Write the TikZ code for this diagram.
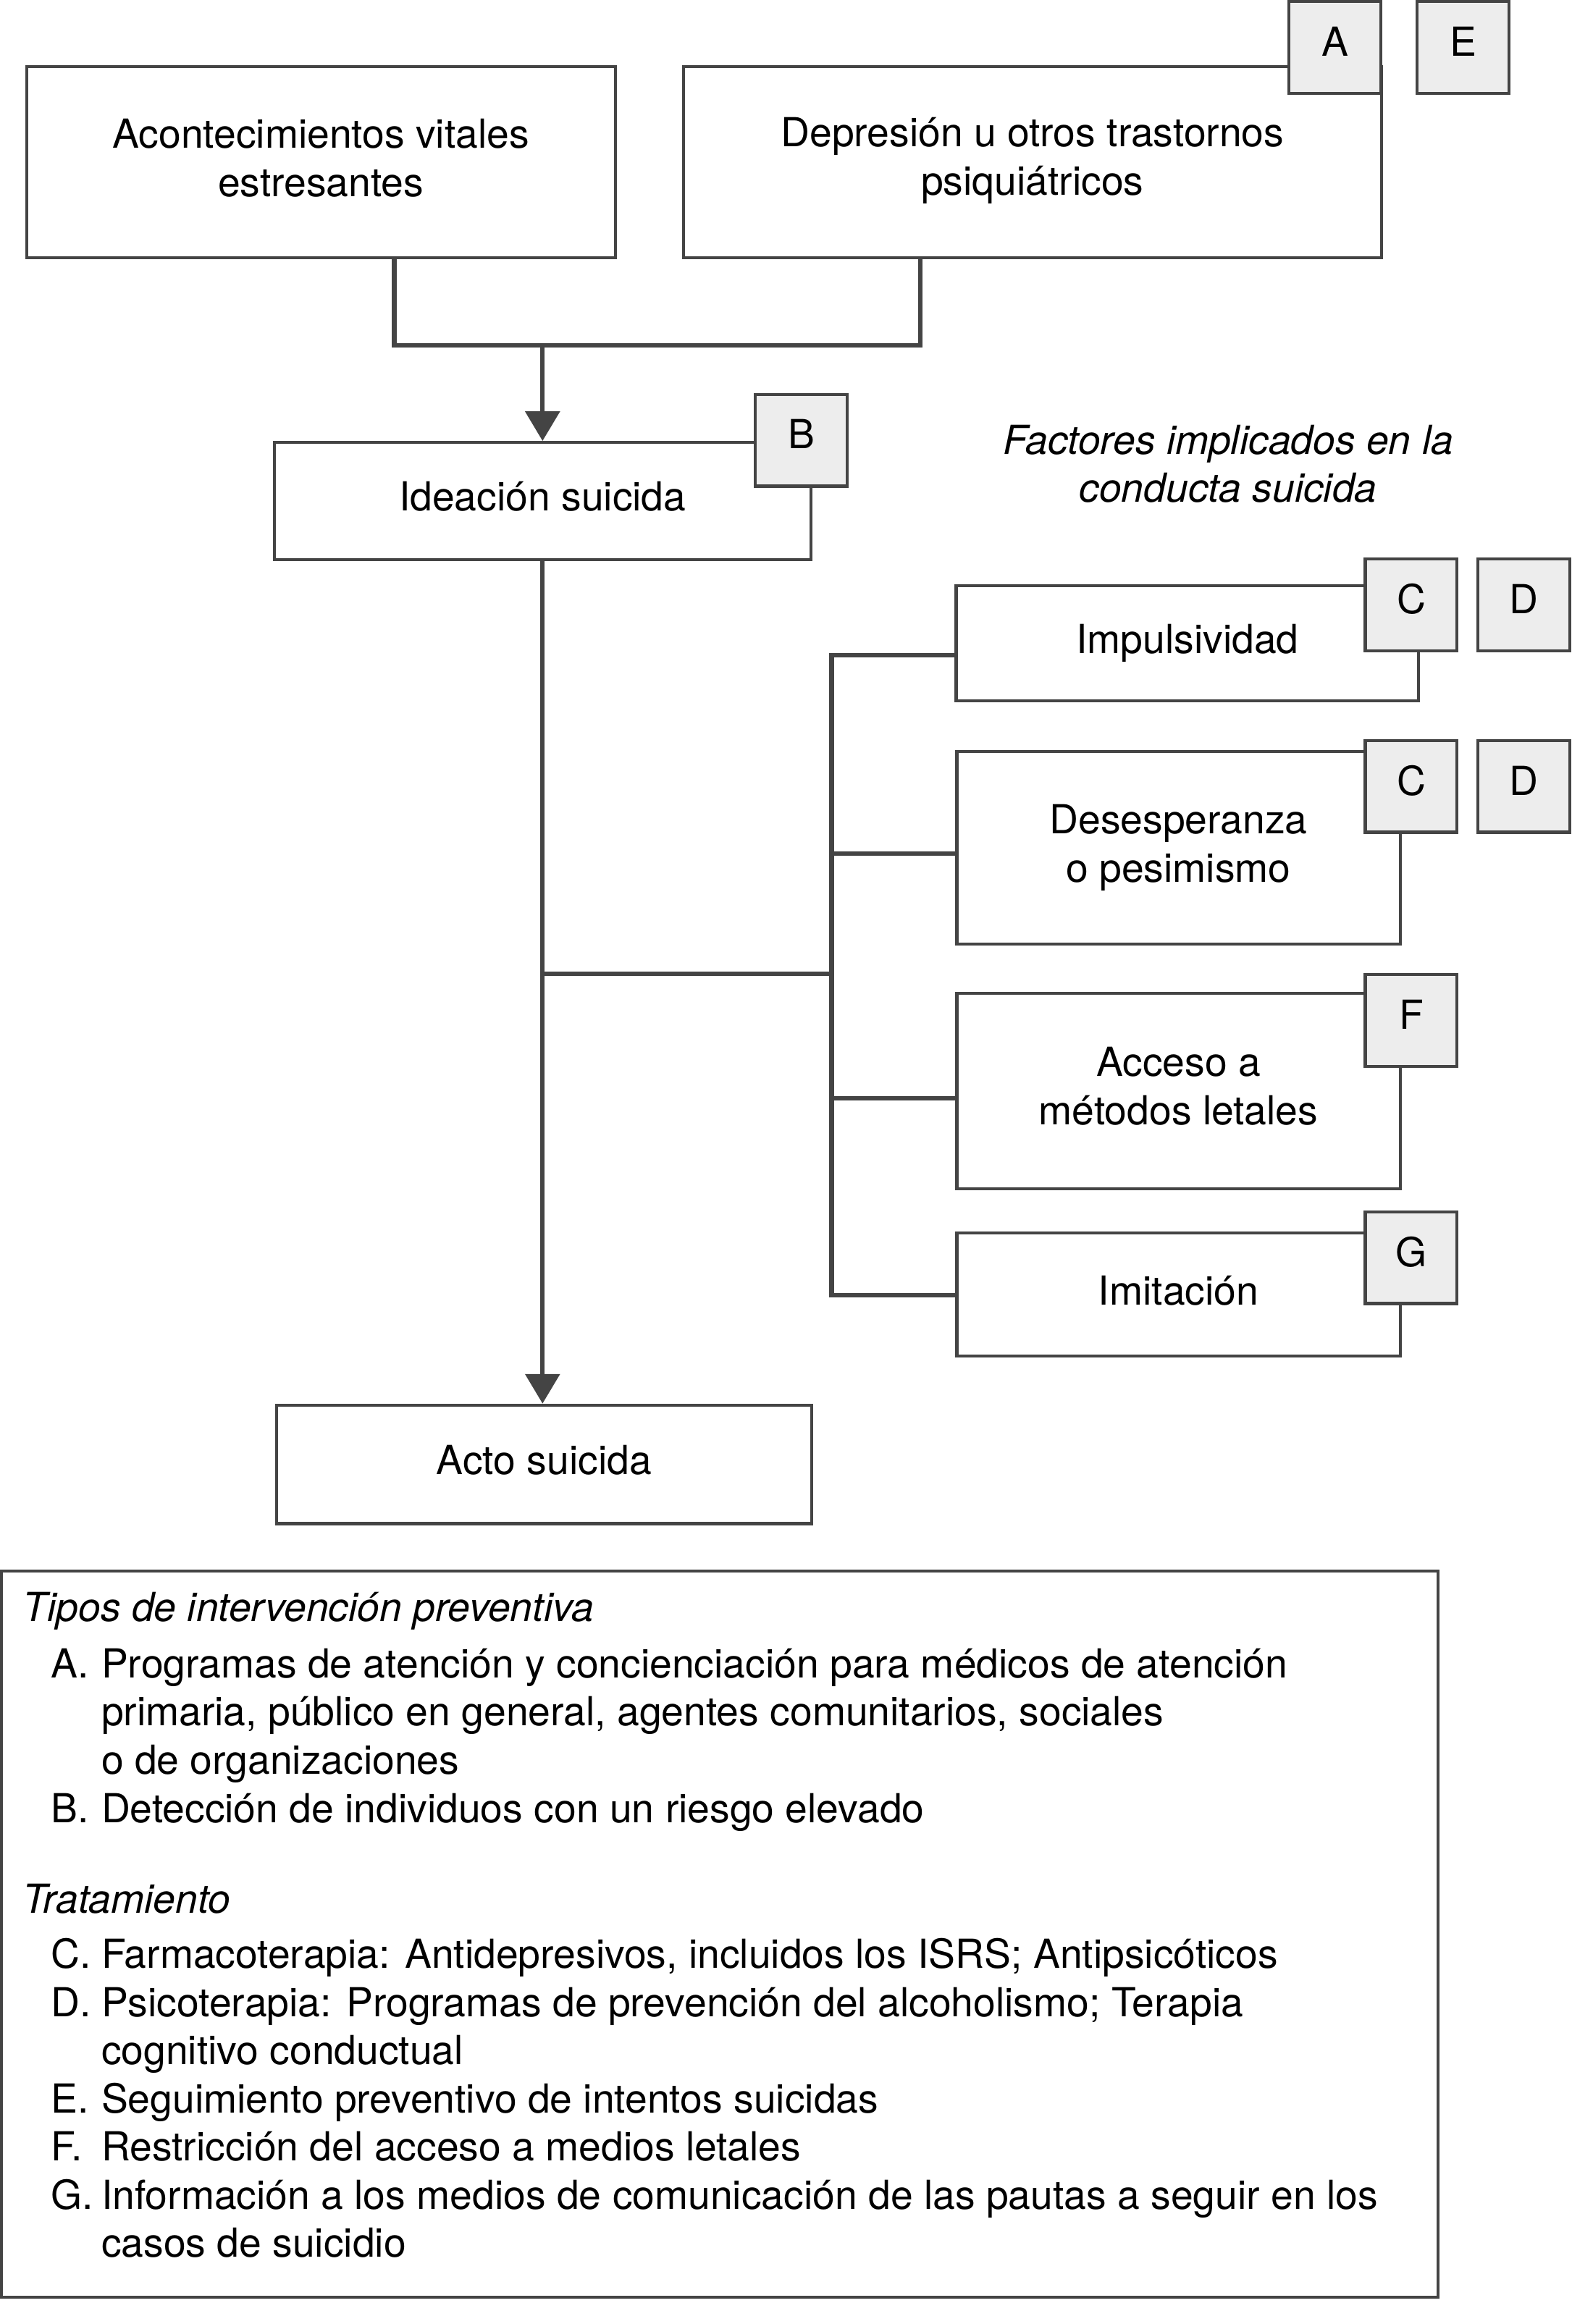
\documentclass[tikz,border=0pt]{standalone}
\usepackage{fontspec}
\setmainfont{TeX Gyre Heros}
\usetikzlibrary{arrows.meta}
\definecolor{linegray}{HTML}{444444}
\definecolor{taggray}{HTML}{EDEDED}
\newcommand{\diagfont}{\fontsize{13.5}{16.3}\selectfont}

\begin{document}
\begin{tikzpicture}[x=0.5pt,y=-0.5pt,>={Triangle[length=10pt,width=11.5pt]},
        stage/.style={draw=linegray,line width=1pt,fill=white,align=center,inner sep=0pt,font=\diagfont},
        tag/.style={draw=linegray,line width=1pt,fill=taggray,minimum width=31pt,minimum height=31pt,inner sep=0pt,text depth=4pt,font=\diagfont},
        wire/.style={draw=linegray,line width=1.5pt},
        legtext/.style={anchor=base west,inner sep=0pt,font=\diagfont}]

    \useasboundingbox (0,0) rectangle (1060,1568);

    \node[stage,minimum width=198.5pt,minimum height=64.5pt,text depth=3pt] (acont) at (216.5,109.5) {Acontecimientos vitales\\estresantes};
    \node[stage,minimum width=235.5pt,minimum height=64.5pt,text depth=4pt] (depr) at (696.5,109.5) {Depresión u otros trastornos\\psiquiátricos};
    \node[stage,minimum width=181pt,minimum height=39.5pt,text depth=3pt] (ideac) at (366,338) {Ideación suicida};
    \node[stage,minimum width=156pt,minimum height=39pt] (impuls) at (801,434) {Impulsividad};
    \node[stage,minimum width=149.5pt,minimum height=65pt] (deses) at (795,572) {Desesperanza\\o pesimismo};
    \node[stage,minimum width=149.5pt,minimum height=66pt,text depth=3.5pt] (acceso) at (795,736) {Acceso a\\métodos letales};
    \node[stage,minimum width=149.5pt,minimum height=41.5pt,text depth=3pt] (imit) at (795,873.5) {Imitación};
    \node[stage,minimum width=180.5pt,minimum height=40pt,text depth=3pt] (acto) at (367,988) {Acto suicida};

    \node[tag] (tagA) at (900.5,32) {A};
    \node[tag] (tagE) at (987,32) {E};
    \node[tag] (tagB) at (540.5,297) {B};
    \node[tag] (tagC1) at (952,408) {C};
    \node[tag] (tagD1) at (1028,408) {D};
    \node[tag] (tagC2) at (952,530.5) {C};
    \node[tag] (tagD2) at (1028,530.5) {D};
    \node[tag] (tagF) at (952,688.5) {F};
    \node[tag] (tagG) at (952,848.5) {G};

    \node[align=center,font=\diagfont\itshape] (factores) at (828.5,313) {Factores implicados en la\\conducta suicida};

    \coordinate (merge) at (366,233);
    \coordinate (split) at (366,657);
    \coordinate (bustop) at (561,442);
    \coordinate (busbot) at (561,874);

    \draw[wire] (acont.south -| 266,0) |- (merge) -| (depr.south -| 621,0);
    \draw[wire,->] (merge) -- (ideac.north);
    \draw[wire,->] (ideac.south) -- (ideac.south |- acto.north);
    \draw[wire] (split) -- (bustop |- split);
    \draw[wire] (impuls.west |- bustop) -| (busbot) -- (imit.west |- busbot);
    \draw[wire] (deses.west |- 0,576) -- (bustop |- 0,576);
    \draw[wire] (acceso.west |- 0,741) -- (bustop |- 0,741);

    \draw[draw=linegray,line width=1pt] (1,1060) rectangle (970,1550);

    \node[legtext,font=\diagfont\itshape] (tipos) at (15,1094) {Tipos de intervención preventiva};
    \node[legtext] (labA) at (34,1132) {A.};
    \node[legtext] (legA1) at (68,1132) {Programas de atención y concienciación para médicos de atención};
    \node[legtext] (legA2) at (68,1164.5) {primaria, público en general, agentes comunitarios, sociales};
    \node[legtext] (legA3) at (68,1197) {o de organizaciones};
    \node[legtext] (labB) at (34,1229.5) {B.};
    \node[legtext] (legB) at (68,1229.5) {Detección de individuos con un riesgo elevado};

    \node[legtext,font=\diagfont\itshape] (tratam) at (15,1291) {Tratamiento};
    \node[legtext] (labC) at (34,1328) {C.};
    \node[legtext] (legC) at (68,1328) {Farmacoterapia: Antidepresivos, incluidos los ISRS; Antipsicóticos};
    \node[legtext] (labD) at (34,1360.5) {D.};
    \node[legtext] (legD1) at (68,1360.5) {Psicoterapia: Programas de prevención del alcoholismo; Terapia};
    \node[legtext] (legD2) at (68,1393) {cognitivo conductual};
    \node[legtext] (labE) at (34,1425.5) {E.};
    \node[legtext] (legE) at (68,1425.5) {Seguimiento preventivo de intentos suicidas};
    \node[legtext] (labF) at (34,1458) {F.};
    \node[legtext] (legF) at (68,1458) {Restricción del acceso a medios letales};
    \node[legtext] (labG) at (34,1490.5) {G.};
    \node[legtext] (legG1) at (68,1490.5) {Información a los medios de comunicación de las pautas a seguir en los};
    \node[legtext] (legG2) at (68,1523) {casos de suicidio};

\end{tikzpicture}
\end{document}
